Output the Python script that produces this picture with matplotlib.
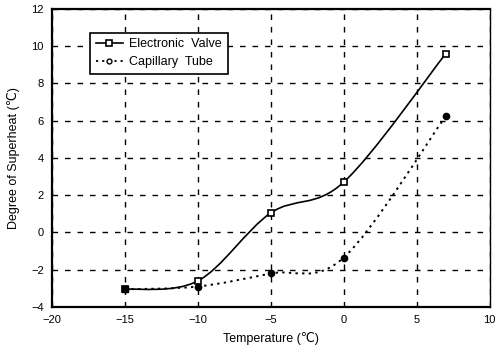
import matplotlib
matplotlib.use('Agg')
from matplotlib import pyplot as plt
from matplotlib.path import Path
from matplotlib.patches import PathPatch
from matplotlib.lines import Line2D
import numpy as np

temps = [-15, -10, -5, 0, 7]
electronic = [-3.05, -2.6, 1.05, 2.7, 9.6]
capillary = [-3.05, -2.9, -2.2, -1.35, 6.25]
xticks = [-20, -15, -10, -5, 0, 5, 10]
yticks = [-4, -2, 0, 2, 4, 6, 8, 10, 12]

plt.rcParams['font.family'] = ['Liberation Sans', 'DejaVu Sans']
plt.rcParams['font.size'] = 8


def smooth_path(xs, ys):
    # Bezier path through the points (Catmull-Rom style, like a smoothed line)
    pts = np.column_stack([xs, ys]).astype(float)
    verts = [pts[0]]
    codes = [Path.MOVETO]
    n = len(pts)
    for i in range(n - 1):
        p0 = pts[i - 1] if i > 0 else pts[i]
        p1 = pts[i]
        p2 = pts[i + 1]
        p3 = pts[i + 2] if i + 2 < n else pts[i + 1]
        c1 = p1 + (p2 - p0) / 6.0
        c2 = p2 - (p3 - p1) / 6.0
        verts += [c1, c2, p2]
        codes += [Path.CURVE4] * 3
    return Path(verts, codes)


fig = plt.figure(figsize=(5, 3.57), dpi=100)
ax = fig.add_axes([0.104, 0.14, 0.875, 0.835])

ax.add_patch(PathPatch(smooth_path(temps, electronic), facecolor='none',
                       edgecolor='black', linewidth=1.2, zorder=3))
ax.add_patch(PathPatch(smooth_path(temps, capillary), facecolor='none',
                       edgecolor='black', linewidth=1.4, linestyle=(0, (1.2, 2.2)), zorder=3))
ax.plot(temps, electronic, linestyle='none', marker='s', markersize=4.5,
        markerfacecolor='white', markeredgecolor='black', markeredgewidth=1.2, zorder=4)
ax.plot(temps[:1], electronic[:1], linestyle='none', marker='s', markersize=4.5,
        color='black', zorder=4)
ax.plot(temps, capillary, linestyle='none', marker='o', markersize=4.5,
        color='black', zorder=4)

ax.set_xlim(-20, 10)
ax.set_ylim(-4, 12)
ax.set_xticks(xticks)
ax.set_yticks(yticks)
ax.set_xticklabels([str(t).replace('-', '\u2212') for t in xticks])
ax.set_yticklabels([str(t).replace('-', '\u2212') for t in yticks])
ax.tick_params(axis='both', length=0, pad=6, labelsize=8)
ax.grid(True, color='black', linestyle=(0, (4, 5)), linewidth=1.0)
ax.set_axisbelow(True)
for side in ['left', 'bottom', 'top']:
    ax.spines[side].set_linewidth(1.6)
ax.spines['right'].set_linewidth(1.0)

ax.set_xlabel('Temperature (\u2103)', fontsize=9, labelpad=5)
ax.set_ylabel('Degree of Superheat (\u2103)', fontsize=9, labelpad=8)

handles = [
    Line2D([], [], color='black', linewidth=1.2, marker='s', markersize=4.5,
           markerfacecolor='white', markeredgewidth=1.2),
    Line2D([], [], color='black', linewidth=1.3, linestyle=(0, (1.2, 2.2)),
           marker='o', markersize=3.5, markerfacecolor='white'),
]
leg = ax.legend(handles, ['Electronic  Valve', 'Capillary  Tube'], loc='upper left',
                bbox_to_anchor=(0.087, 0.92), fontsize=9, frameon=True, fancybox=False,
                handlelength=2.2, handletextpad=0.5, borderpad=0.45, labelspacing=0.45,
                borderaxespad=0.0)
leg.get_frame().set_edgecolor('black')
leg.get_frame().set_linewidth(1.2)
leg.get_frame().set_alpha(1)

plt.savefig('out.png', dpi=100)
